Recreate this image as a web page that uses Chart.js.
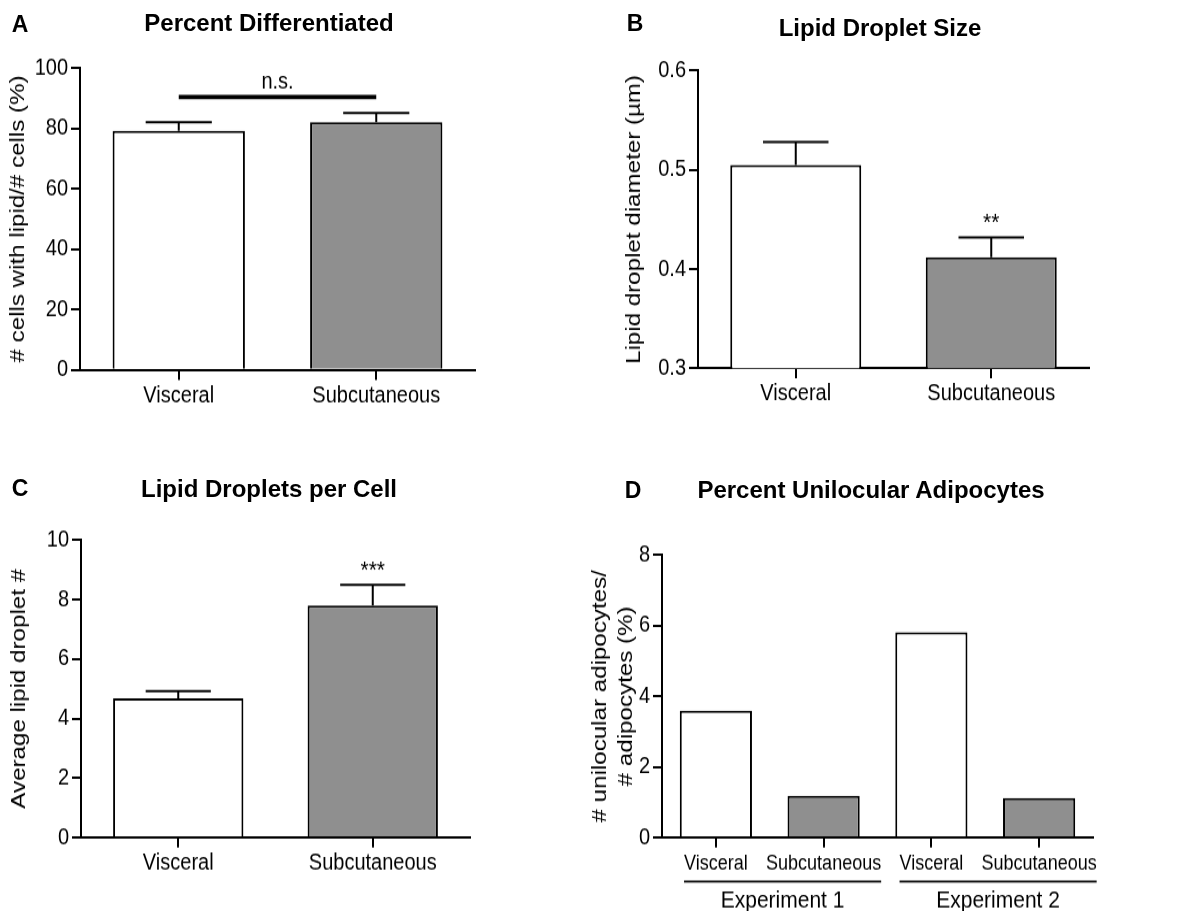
<!DOCTYPE html>
<html>
<head>
<meta charset="utf-8">
<script src="https://cdn.jsdelivr.net/npm/chart.js@4"></script>
<style>
  body { margin: 0; background: #fff; font-family: 'Liberation Sans', Arial, sans-serif; }
  #fig { position: relative; width: 1187px; height: 911px; }
  canvas { position: absolute; transform-origin: 0 0; }
  .judul, .huruf { position: absolute; transform: translate(-50%, -50%); font-weight: bold; white-space: nowrap; color: #000; }
  .judul { font-size: 24px; }
  .huruf { font-size: 23px; }
</style>
</head>
<body>
<div id="fig">
  <canvas id="grafikA"></canvas>
  <canvas id="grafikB"></canvas>
  <canvas id="grafikC"></canvas>
  <canvas id="grafikD"></canvas>

  <div class="huruf" style="left:20px;top:24px">A</div>
  <div class="judul" style="left:269px;top:23px">Percent Differentiated</div>
  <div class="huruf" style="left:635px;top:23px">B</div>
  <div class="judul" style="left:880px;top:28px">Lipid Droplet Size</div>
  <div class="huruf" style="left:20px;top:488px">C</div>
  <div class="judul" style="left:269px;top:489px">Lipid Droplets per Cell</div>
  <div class="huruf" style="left:633px;top:490px">D</div>
  <div class="judul" style="left:871px;top:490px">Percent Unilocular Adipocytes</div>
</div>
<script>
// Data yang dibaca dari gambar
const categories = ["Visceral", "Subcutaneous"];
const percentDiff = [79.2, 82.1];
const percentDiffSem = [2.9, 3.0];
const dropletSize = [0.505, 0.412];
const dropletSizeSem = [0.023, 0.020];
const dropletsPerCell = [4.68, 7.80];
const dropletsPerCellSem = [0.24, 0.69];
const expCategories = ["Visceral", "Subcutaneous", "Visceral", "Subcutaneous"];
const experiments = ["Experiment 1", "Experiment 2"];
const unilocular = [3.59, 1.18, 5.81, 1.12];
const marksB = ["", "**"];
const marksC = ["", "***"];

const putih = "#ffffff";
const abu = "#8f8f8f";
const FONT = "'Liberation Sans', Arial, sans-serif";
// huruf grafik di gambar asli lebih tinggi/sempit, jadi kanvas ditarik vertikal
const K = 1.15;

Chart.defaults.color = "#000";
Chart.defaults.font.family = FONT;
Chart.defaults.font.size = 20;
Chart.defaults.animation = false;

// Error bar, tanda bintang, garis n.s. dan garis kelompok
const annotasi = {
  id: "annotasi",
  afterDraw(chart, args, opt) {
    const ctx = chart.ctx;
    const x = chart.scales.x, y = chart.scales.y;
    const vals = chart.data.datasets[0].data;
    const bars = chart.getDatasetMeta(0).data;
    ctx.save();
    ctx.strokeStyle = "#000";
    ctx.fillStyle = "#000";
    ctx.lineWidth = 2;
    if (opt.sem) {
      bars.forEach((bar, i) => {
        const top = y.getPixelForValue(vals[i] + opt.sem[i]);
        const half = bar.width / 4;
        ctx.beginPath();
        ctx.moveTo(bar.x, bar.y);
        ctx.lineTo(bar.x, top);
        ctx.moveTo(bar.x - half, top);
        ctx.lineTo(bar.x + half, top);
        ctx.stroke();
        if (opt.marks && opt.marks[i]) {
          ctx.font = "21px " + FONT;
          ctx.textAlign = "center";
          ctx.textBaseline = "alphabetic";
          ctx.fillText(opt.marks[i], bar.x, top - 6);
        }
      });
    }
    if (opt.bracket) {
      const b = opt.bracket;
      const yy = y.getPixelForValue(b.value);
      const x0 = x.getPixelForValue(b.from), x1 = x.getPixelForValue(b.to);
      ctx.lineWidth = 3.6;
      ctx.beginPath();
      ctx.moveTo(x0, yy);
      ctx.lineTo(x1, yy);
      ctx.stroke();
      ctx.font = "20px " + FONT;
      ctx.textAlign = "center";
      ctx.textBaseline = "alphabetic";
      ctx.fillText(b.text, (x0 + x1) / 2, yy - 7);
    }
    if (opt.groups) {
      const bottom = chart.chartArea.bottom;
      opt.groups.forEach(g => {
        ctx.font = "18px " + FONT;
        const l = x.getPixelForValue(g.from) - ctx.measureText(chart.data.labels[g.from]).width / 2;
        const r = x.getPixelForValue(g.to) + ctx.measureText(chart.data.labels[g.to]).width / 2;
        ctx.lineWidth = 1.8;
        ctx.beginPath();
        ctx.moveTo(l, bottom + 44 / K);
        ctx.lineTo(r, bottom + 44 / K);
        ctx.stroke();
        ctx.font = "21px " + FONT;
        ctx.textAlign = "center";
        ctx.textBaseline = "middle";
        ctx.fillText(g.label, (l + r) / 2, bottom + 63 / K);
      });
    }
    ctx.restore();
  }
};
Chart.register(annotasi);

// o.left/o.top/o.w/o.h = letak kanvas di halaman; o.plotTop/o.plotBottom = batas area plot (px halaman)
function buatGrafik(id, labels, values, colors, o) {
  const cv = document.getElementById(id);
  const hc = Math.round(o.h / K);
  cv.width = o.w;
  cv.height = hc;
  cv.style.left = o.left + "px";
  cv.style.top = o.top + "px";
  cv.style.width = o.w + "px";
  cv.style.height = hc + "px";
  cv.style.transform = "scaleY(" + (o.h / hc) + ")";
  const padTop = (o.plotTop - o.top) / K;
  const xHeight = hc - (o.plotBottom - o.top) / K;
  return new Chart(cv, {
    type: "bar",
    data: {
      labels: labels,
      datasets: [{
        data: values,
        backgroundColor: colors,
        borderColor: "#000",
        borderWidth: 2,
        barPercentage: 0.67,
        categoryPercentage: 1
      }]
    },
    options: {
      responsive: false,
      layout: { padding: { left: 0, right: o.w - o.plotRight, top: padTop, bottom: 0 } },
      plugins: {
        legend: { display: false },
        tooltip: { enabled: false },
        annotasi: o.annot || {}
      },
      scales: {
        x: {
          grid: { offset: false, drawOnChartArea: false, color: "#000", lineWidth: 2, tickLength: 10 / K },
          border: { color: "#000", width: 2 },
          ticks: { maxRotation: 0, minRotation: 0, autoSkip: false, padding: o.xPad || 2, font: { size: o.xFont || 20 } },
          afterFit: s => { s.height = xHeight; }
        },
        y: {
          min: o.min,
          max: o.max,
          grid: { drawOnChartArea: false, color: "#000", lineWidth: 2, tickLength: 9 },
          border: { color: "#000", width: 2 },
          ticks: { stepSize: o.step, padding: 3 },
          title: {
            display: true,
            text: o.yTitle,
            font: { size: 21, lineHeight: o.lh || 1.2 },
            padding: { top: o.titlePad, bottom: 0 }
          },
          afterFit: s => { s.width = o.plotLeft; }
        }
      }
    }
  });
}

buatGrafik("grafikA", categories, percentDiff, [putih, abu], {
  left: 0, top: 0, w: 590, h: 430,
  plotLeft: 80, plotRight: 475, plotTop: 68, plotBottom: 370, titlePad: 6,
  min: 0, max: 100, step: 20, yTitle: "# cells with lipid/# cells (%)",
  annot: { sem: percentDiffSem, bracket: { from: 0, to: 1, value: 90.4, text: "n.s." } }
});

buatGrafik("grafikB", categories, dropletSize, [putih, abu], {
  left: 590, top: 0, w: 597, h: 430,
  plotLeft: 108, plotRight: 499, plotTop: 70.7, plotBottom: 368.3, titlePad: 32,
  min: 0.3, max: 0.6, step: 0.1, yTitle: "Lipid droplet diameter (\u00b5m)",
  annot: { sem: dropletSizeSem, marks: marksB }
});

buatGrafik("grafikC", categories, dropletsPerCell, [putih, abu], {
  left: 0, top: 450, w: 580, h: 461,
  plotLeft: 81, plotRight: 470, plotTop: 540, plotBottom: 837.7, titlePad: 7,
  min: 0, max: 10, step: 2, yTitle: "Average lipid droplet #",
  annot: { sem: dropletsPerCellSem, marks: marksC }
});

buatGrafik("grafikD", expCategories, unilocular, [putih, abu, putih, abu], {
  left: 580, top: 450, w: 607, h: 461,
  plotLeft: 82, plotRight: 513, plotTop: 555, plotBottom: 837.7, titlePad: 8, lh: 1.2,
  xFont: 18, xPad: 3,
  min: 0, max: 8, step: 2, yTitle: ["# unilocular adipocytes/", "# adipocytes (%)"],
  annot: { groups: [
    { label: experiments[0], from: 0, to: 1 },
    { label: experiments[1], from: 2, to: 3 }
  ] }
});
</script>
</body>
</html>
